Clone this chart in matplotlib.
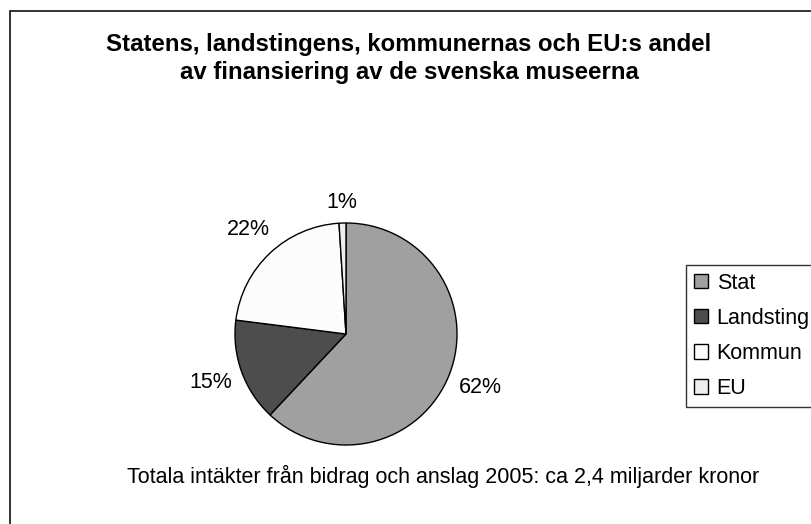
import numpy as np
import matplotlib
matplotlib.use("Agg")
import matplotlib.pyplot as plt
from matplotlib.patches import Patch, Rectangle

plt.rcParams['font.family'] = ['Liberation Sans', 'DejaVu Sans']

# data
categories = ["Stat", "Landsting", "Kommun", "EU"]
shares = [62, 15, 22, 1]
colors = ["#a0a0a0", "#4d4d4d", "#fcfcfc", "#eeeeee"]

title1 = "Statens, landstingens, kommunernas och EU:s andel"
title2 = "av finansiering av de svenska museerna"
note = "Totala intäkter från bidrag och anslag 2005: ca 2,4 miljarder kronor"

W, H = 811, 524
FS = 15.5
fig = plt.figure(figsize=(W/100, H/100), dpi=100)

# outer chart border (right/bottom edges fall outside the crop)
fig.patches.append(Rectangle((9.5/W, -0.1), 1.2, 1 - 11.5/H + 0.1,
                             transform=fig.transFigure, fill=False,
                             edgecolor="#222222", lw=1.3))

# pie, centre (346,334) px, radius 111 px
cx, cy, r = 346, 334, 111
ax = fig.add_axes([(cx - r)/W, (H - cy - r)/H, 2*r/W, 2*r/H])
wedges, texts, autotexts = ax.pie(shares, colors=colors, startangle=90, counterclock=False,
                                  autopct='%.0f%%', pctdistance=1.25,
                                  wedgeprops=dict(edgecolor="black", linewidth=1.0),
                                  textprops=dict(fontsize=FS))
ax.set_xlim(-1, 1)
ax.set_ylim(-1, 1)
ax.set_aspect('equal')
ax.axis('off')

# push the labels out so their box sits just off the rim
fig.canvas.draw()
rend = fig.canvas.get_renderer()
for w, t in zip(wedges, autotexts):
    ang = np.deg2rad((w.theta1 + w.theta2) / 2)
    bb = t.get_window_extent(rend)
    hw = bb.width / 2 / r
    hh = bb.height / 2 / r
    d = 1.085 + hw*abs(np.cos(ang)) + hh*abs(np.sin(ang))
    t.set_position((d*np.cos(ang), d*np.sin(ang)))
    t.set_ha('center')
    t.set_va('center')

fig.text(409/W, 1 - 44/H, title1, ha='center', va='center', fontsize=17.3, fontweight='bold')
fig.text(409/W, 1 - 72.5/H, title2, ha='center', va='center', fontsize=17.3, fontweight='bold')

fig.text(443/W, 1 - 476/H, note, ha='center', va='center', fontsize=FS)

handles = [Patch(facecolor=c, edgecolor="black", lw=1.0) for c in colors]
leg = fig.legend(handles, categories, loc='upper left', bbox_to_anchor=(686/W, 1 - 265/H),
                 fontsize=FS, frameon=True, fancybox=False, handlelength=0.65,
                 handleheight=0.65, handletextpad=0.42, labelspacing=0.66,
                 borderpad=0.35, borderaxespad=0)
leg.get_frame().set_edgecolor("black")
leg.get_frame().set_linewidth(1.0)

fig.savefig("out.png", dpi=100)
